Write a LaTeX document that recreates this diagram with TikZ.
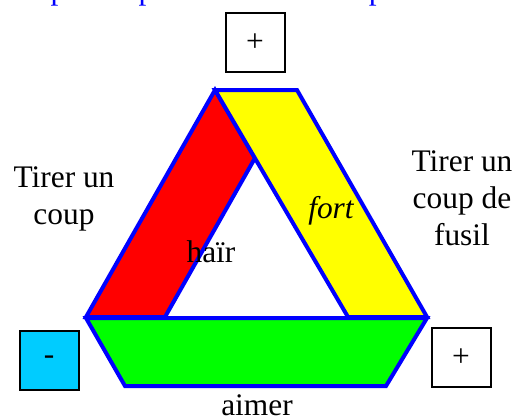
\documentclass[tikz,border=0pt]{standalone}
\usepackage{fontspec}
\setmainfont{Liberation Serif}
\usepackage{xcolor}
\definecolor{bandblue}{RGB}{0,0,255}
\definecolor{bandred}{RGB}{255,0,0}
\definecolor{bandyellow}{RGB}{255,255,0}
\definecolor{bandgreen}{RGB}{0,255,0}
\definecolor{boxcyan}{RGB}{0,204,255}
\tikzset{
  band/.style={draw=bandblue,line width=2pt,line join=miter},
  signbox/.style={draw=black,line width=1pt,minimum width=29.5pt,
    minimum height=29.5pt,inner sep=0pt},
  lbl/.style={inner sep=0pt,align=center}
}
\begin{document}
\begin{tikzpicture}[x=0.5pt,y=-0.5pt]
\fontsize{15.7}{18.5}\selectfont
\useasboundingbox (0,0) rectangle (515,419);
% --- cut-off line above ---
\node[inner sep=0pt,anchor=base west,text=bandblue] (intro) at (4,-1)
  {On peut espérer tirer ceci du processus a};
% --- the three bands ---
\filldraw[band,fill=bandred] (215,90) -- (255,158) -- (165,317) -- (86,317) -- cycle;
\filldraw[band,fill=bandyellow] (215,90) -- (297,90) -- (427,317) -- (348,317) -- cycle;
\filldraw[band,fill=bandgreen] (86,318) -- (427,318) -- (386,386) -- (125,386) -- cycle;
% --- signs ---
\node[signbox] (top) at (255,42.5) {+};
\node[signbox,fill=boxcyan] (left) at (49,360) {-};
\node[signbox] (right) at (461,357.5) {+};
% --- labels ---
\node[lbl] (shootL) at (64,199) {Tirer un\\coup};
\node[lbl] (shootR) at (462,198) {Tirer un\\coup de\\fusil};
\node[inner sep=0pt,anchor=base] (hate) at (211,262) {haïr};
\node[inner sep=0pt,anchor=base] (strong) at (331,218) {\itshape fort};
\node[inner sep=0pt,anchor=base] (love) at (257,415) {aimer};
\end{tikzpicture}
\end{document}
